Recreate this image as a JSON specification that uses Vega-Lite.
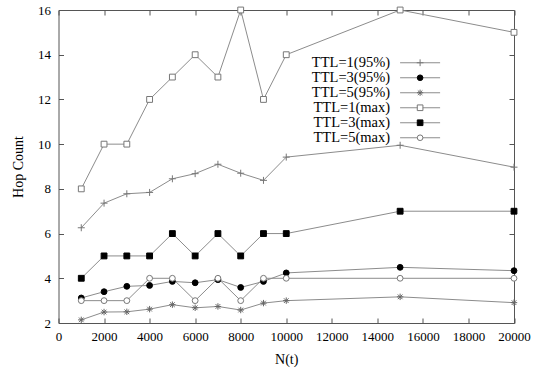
{
  "$schema": "https://vega.github.io/schema/vega-lite/v6.json",
  "autosize": "none",
  "padding": {"left": 58.5, "top": 10, "right": 25, "bottom": 49},
  "width": 455.5,
  "height": 313,
  "background": "white",
  "config": {
    "view": {"stroke": "#555555", "strokeWidth": 1},
    "axis": {
      "labelFont": "Liberation Serif", "labelFontSize": 13, "labelColor": "black",
      "titleFont": "Liberation Serif", "titleFontSize": 14, "titleFontWeight": "normal", "titleColor": "black",
      "tickColor": "#555555", "tickSize": -5, "domain": false, "grid": false,
      "labelFlush": false, "labelOverlap": false
    },
    "legend": {
      "labelFont": "Liberation Serif", "labelFontSize": 14.5, "labelColor": "black",
      "padding": 0, "rowPadding": 0, "symbolStrokeWidth": 1, "symbolOpacity": 1
    }
  },
  "data": {"values": [
    {"n": 1000, "hops": 6.26, "series": "TTL=1(95%)"},
    {"n": 2000, "hops": 7.36, "series": "TTL=1(95%)"},
    {"n": 3000, "hops": 7.78, "series": "TTL=1(95%)"},
    {"n": 4000, "hops": 7.84, "series": "TTL=1(95%)"},
    {"n": 5000, "hops": 8.45, "series": "TTL=1(95%)"},
    {"n": 6000, "hops": 8.68, "series": "TTL=1(95%)"},
    {"n": 7000, "hops": 9.1, "series": "TTL=1(95%)"},
    {"n": 8000, "hops": 8.7, "series": "TTL=1(95%)"},
    {"n": 9000, "hops": 8.38, "series": "TTL=1(95%)"},
    {"n": 10000, "hops": 9.42, "series": "TTL=1(95%)"},
    {"n": 15000, "hops": 9.95, "series": "TTL=1(95%)"},
    {"n": 20000, "hops": 8.97, "series": "TTL=1(95%)"},
    {"n": 1000, "hops": 3.12, "series": "TTL=3(95%)"},
    {"n": 2000, "hops": 3.4, "series": "TTL=3(95%)"},
    {"n": 3000, "hops": 3.64, "series": "TTL=3(95%)"},
    {"n": 4000, "hops": 3.68, "series": "TTL=3(95%)"},
    {"n": 5000, "hops": 3.86, "series": "TTL=3(95%)"},
    {"n": 6000, "hops": 3.8, "series": "TTL=3(95%)"},
    {"n": 7000, "hops": 3.94, "series": "TTL=3(95%)"},
    {"n": 8000, "hops": 3.59, "series": "TTL=3(95%)"},
    {"n": 9000, "hops": 3.86, "series": "TTL=3(95%)"},
    {"n": 10000, "hops": 4.24, "series": "TTL=3(95%)"},
    {"n": 15000, "hops": 4.49, "series": "TTL=3(95%)"},
    {"n": 20000, "hops": 4.34, "series": "TTL=3(95%)"},
    {"n": 1000, "hops": 2.14, "series": "TTL=5(95%)"},
    {"n": 2000, "hops": 2.49, "series": "TTL=5(95%)"},
    {"n": 3000, "hops": 2.5, "series": "TTL=5(95%)"},
    {"n": 4000, "hops": 2.62, "series": "TTL=5(95%)"},
    {"n": 5000, "hops": 2.82, "series": "TTL=5(95%)"},
    {"n": 6000, "hops": 2.68, "series": "TTL=5(95%)"},
    {"n": 7000, "hops": 2.74, "series": "TTL=5(95%)"},
    {"n": 8000, "hops": 2.58, "series": "TTL=5(95%)"},
    {"n": 9000, "hops": 2.89, "series": "TTL=5(95%)"},
    {"n": 10000, "hops": 3.0, "series": "TTL=5(95%)"},
    {"n": 15000, "hops": 3.17, "series": "TTL=5(95%)"},
    {"n": 20000, "hops": 2.91, "series": "TTL=5(95%)"},
    {"n": 1000, "hops": 8, "series": "TTL=1(max)"},
    {"n": 2000, "hops": 10, "series": "TTL=1(max)"},
    {"n": 3000, "hops": 10, "series": "TTL=1(max)"},
    {"n": 4000, "hops": 12, "series": "TTL=1(max)"},
    {"n": 5000, "hops": 13, "series": "TTL=1(max)"},
    {"n": 6000, "hops": 14, "series": "TTL=1(max)"},
    {"n": 7000, "hops": 13, "series": "TTL=1(max)"},
    {"n": 8000, "hops": 16, "series": "TTL=1(max)"},
    {"n": 9000, "hops": 12, "series": "TTL=1(max)"},
    {"n": 10000, "hops": 14, "series": "TTL=1(max)"},
    {"n": 15000, "hops": 16, "series": "TTL=1(max)"},
    {"n": 20000, "hops": 15, "series": "TTL=1(max)"},
    {"n": 1000, "hops": 4, "series": "TTL=3(max)"},
    {"n": 2000, "hops": 5, "series": "TTL=3(max)"},
    {"n": 3000, "hops": 5, "series": "TTL=3(max)"},
    {"n": 4000, "hops": 5, "series": "TTL=3(max)"},
    {"n": 5000, "hops": 6, "series": "TTL=3(max)"},
    {"n": 6000, "hops": 5, "series": "TTL=3(max)"},
    {"n": 7000, "hops": 6, "series": "TTL=3(max)"},
    {"n": 8000, "hops": 5, "series": "TTL=3(max)"},
    {"n": 9000, "hops": 6, "series": "TTL=3(max)"},
    {"n": 10000, "hops": 6, "series": "TTL=3(max)"},
    {"n": 15000, "hops": 7, "series": "TTL=3(max)"},
    {"n": 20000, "hops": 7, "series": "TTL=3(max)"},
    {"n": 1000, "hops": 3, "series": "TTL=5(max)"},
    {"n": 2000, "hops": 3, "series": "TTL=5(max)"},
    {"n": 3000, "hops": 3, "series": "TTL=5(max)"},
    {"n": 4000, "hops": 4, "series": "TTL=5(max)"},
    {"n": 5000, "hops": 4, "series": "TTL=5(max)"},
    {"n": 6000, "hops": 3, "series": "TTL=5(max)"},
    {"n": 7000, "hops": 4, "series": "TTL=5(max)"},
    {"n": 8000, "hops": 3, "series": "TTL=5(max)"},
    {"n": 9000, "hops": 4, "series": "TTL=5(max)"},
    {"n": 10000, "hops": 4, "series": "TTL=5(max)"},
    {"n": 15000, "hops": 4, "series": "TTL=5(max)"},
    {"n": 20000, "hops": 4, "series": "TTL=5(max)"}
  ]},
  "resolve": {"axis": {"x": "independent", "y": "independent"}},
  "layer": [
    {
      "mark": {"type": "line", "strokeWidth": 1},
      "encoding": {
        "x": {"field": "n", "type": "quantitative",
              "scale": {"domain": [0, 20000], "nice": false, "zero": false},
              "axis": {"orient": "bottom", "title": "N(t)", "format": "d", "values": [0, 2000, 4000, 6000, 8000, 10000, 12000, 14000, 16000, 18000, 20000], "labelPadding": 12, "titlePadding": 9}},
        "y": {"field": "hops", "type": "quantitative",
              "scale": {"domain": [2, 16], "nice": false, "zero": false},
              "axis": {"orient": "left", "title": "Hop Count", "values": [2, 4, 6, 8, 10, 12, 14, 16], "labelPadding": 13, "titlePadding": 12}},
        "color": {"field": "series", "type": "nominal",
                  "sort": ["TTL=1(95%)", "TTL=3(95%)", "TTL=5(95%)", "TTL=1(max)", "TTL=3(max)", "TTL=5(max)"],
                  "scale": {"range": ["#8c8c8c", "#8c8c8c", "#8c8c8c", "#8c8c8c", "#8c8c8c", "#8c8c8c"]},
                  "legend": {"orient": "none", "legendX": 354.35, "legendY": 45.5, "title": null,
                             "symbolType": "M-8,0H8", "symbolSize": 25, "labelExpr": "''", "rowPadding": 0}}
      }
    },
    {
      "mark": {"type": "point", "strokeWidth": 1, "opacity": 1, "size": 34},
      "encoding": {
        "x": {"field": "n", "type": "quantitative",
              "axis": {"orient": "top", "labels": false, "title": null, "values": [0, 2000, 4000, 6000, 8000, 10000, 12000, 14000, 16000, 18000, 20000]}},
        "y": {"field": "hops", "type": "quantitative",
              "axis": {"orient": "right", "labels": false, "title": null, "values": [2, 4, 6, 8, 10, 12, 14, 16]}},
        "shape": {"field": "series", "type": "nominal",
                  "scale": {"domain": ["TTL=1(95%)", "TTL=3(95%)", "TTL=5(95%)", "TTL=1(max)", "TTL=3(max)", "TTL=5(max)"],
                            "range": ["M-1.2,0H1.2M0,-1.2V1.2", "circle", "M-1.1,0H1.1M0,-1.1V1.1M-0.8,-0.8L0.8,0.8M-0.8,0.8L0.8,-0.8", "square", "square", "circle"]},
                  "legend": {"orient": "none", "legendX": 354.35, "legendY": 45.5, "title": null, "symbolSize": 32, "labelAlign": "right", "labelOffset": -37.25}},
        "fill": {"field": "series", "type": "nominal",
                 "scale": {"domain": ["TTL=1(95%)", "TTL=3(95%)", "TTL=5(95%)", "TTL=1(max)", "TTL=3(max)", "TTL=5(max)"],
                           "range": ["transparent", "black", "transparent", "white", "black", "white"]},
                 "legend": {"orient": "none", "legendX": 354.35, "legendY": 45.5, "title": null, "symbolSize": 32, "labelAlign": "right", "labelOffset": -37.25}},
        "stroke": {"field": "series", "type": "nominal",
                   "scale": {"domain": ["TTL=1(95%)", "TTL=3(95%)", "TTL=5(95%)", "TTL=1(max)", "TTL=3(max)", "TTL=5(max)"],
                             "range": ["#777777", "black", "#666666", "#777777", "black", "#777777"]},
                   "legend": {"orient": "none", "legendX": 354.35, "legendY": 45.5, "title": null, "symbolSize": 32, "labelAlign": "right", "labelOffset": -37.25}}
      }
    }
  ]
}
